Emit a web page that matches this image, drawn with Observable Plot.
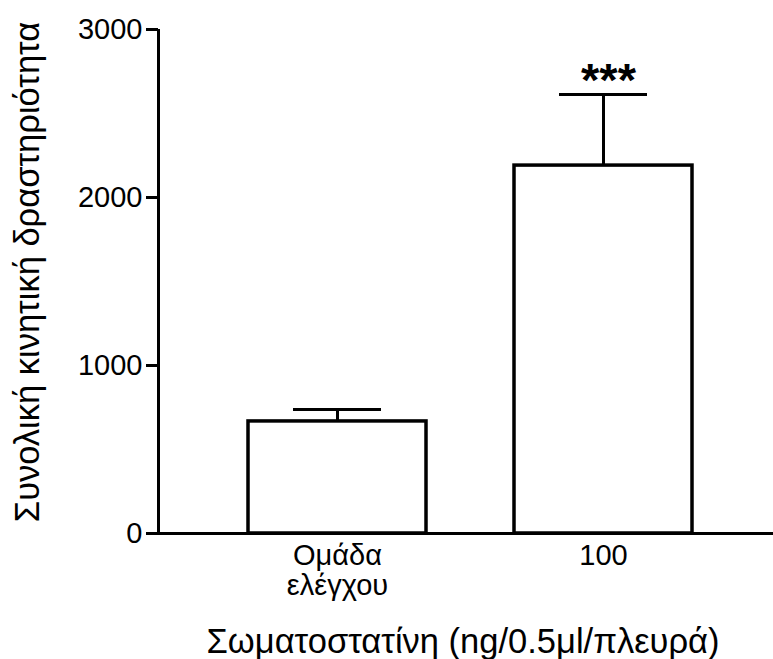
<!DOCTYPE html>
<html>
<head>
<meta charset="utf-8">
<script src="https://cdn.jsdelivr.net/npm/d3@7"></script>
<script src="https://cdn.jsdelivr.net/npm/@observablehq/plot@0.6"></script>
<style>
  html, body { margin: 0; padding: 0; background: white; }
</style>
</head>
<body>
<div id="chart"></div>
<script>
const groups = ["Ομάδα\nελέγχου", "100"];
const means = [667, 2190];
const sems = [71, 423];
const signif = ["", "***"];
const yTicks = [0, 1000, 2000, 3000];
const yLabel = "Συνολική κινητική δραστηριότητα";
const xLabel = "Σωματοστατίνη (ng/0.5μl/πλευρά)";

const data = groups.map((g, i) => ({group: g, mean: means[i], sem: sems[i], sig: signif[i]}));

const W = 773, H = 659, ML = 158, MR = 0, MT = 29, MB = 126;

const chart = Plot.plot({
  width: W,
  height: H,
  marginLeft: ML,
  marginRight: MR,
  marginTop: MT,
  marginBottom: MB,
  style: {fontFamily: "'Liberation Sans', Arial, sans-serif", fontSize: "29px", color: "black", background: "white", overflow: "visible"},
  x: {domain: groups, paddingInner: 0.33, paddingOuter: 0.317, align: 0.527, label: null},
  y: {domain: [0, 3000], label: null},
  marks: [
    Plot.barY(data, {x: "group", y: "mean", fill: "white", stroke: "black", strokeWidth: 3.5}),
    Plot.ruleX(data, {x: "group", y1: "mean", y2: d => d.mean + d.sem, stroke: "black", strokeWidth: 3}),
    Plot.tickY(data, {x: "group", y: d => d.mean + d.sem, stroke: "black", strokeWidth: 3, inset: 45}),
    Plot.text(data, {x: "group", y: d => d.mean + d.sem, text: "sig", fontSize: 47, fontWeight: "bold", lineAnchor: "middle", dx: 5, dy: -14}),
    Plot.ruleY([0], {stroke: "black", strokeWidth: 3}),
    Plot.ruleX([0], {x: null, y1: 0, y2: 3000, stroke: "black", strokeWidth: 3, dx: ML - (ML + W - MR) / 2}),
    Plot.axisY({ticks: yTicks, tickSize: 12, tickPadding: 4, strokeWidth: 3, label: null, tickFormat: d => String(d), fontSize: 29}),
    Plot.axisX({tickSize: 0, tickPadding: 10, lineHeight: 1.035, label: null, fontSize: 29}),
    Plot.text([xLabel], {text: d => d, frameAnchor: "bottom", dx: -3, dy: 108, lineAnchor: "middle", fontSize: 34.5}),
    Plot.text([yLabel], {text: d => d, frameAnchor: "left", rotate: -90, textAnchor: "middle", dx: -131, dy: -9.5, lineAnchor: "middle", fontSize: 34.5})
  ]
});
document.getElementById("chart").appendChild(chart);
</script>
</body>
</html>
